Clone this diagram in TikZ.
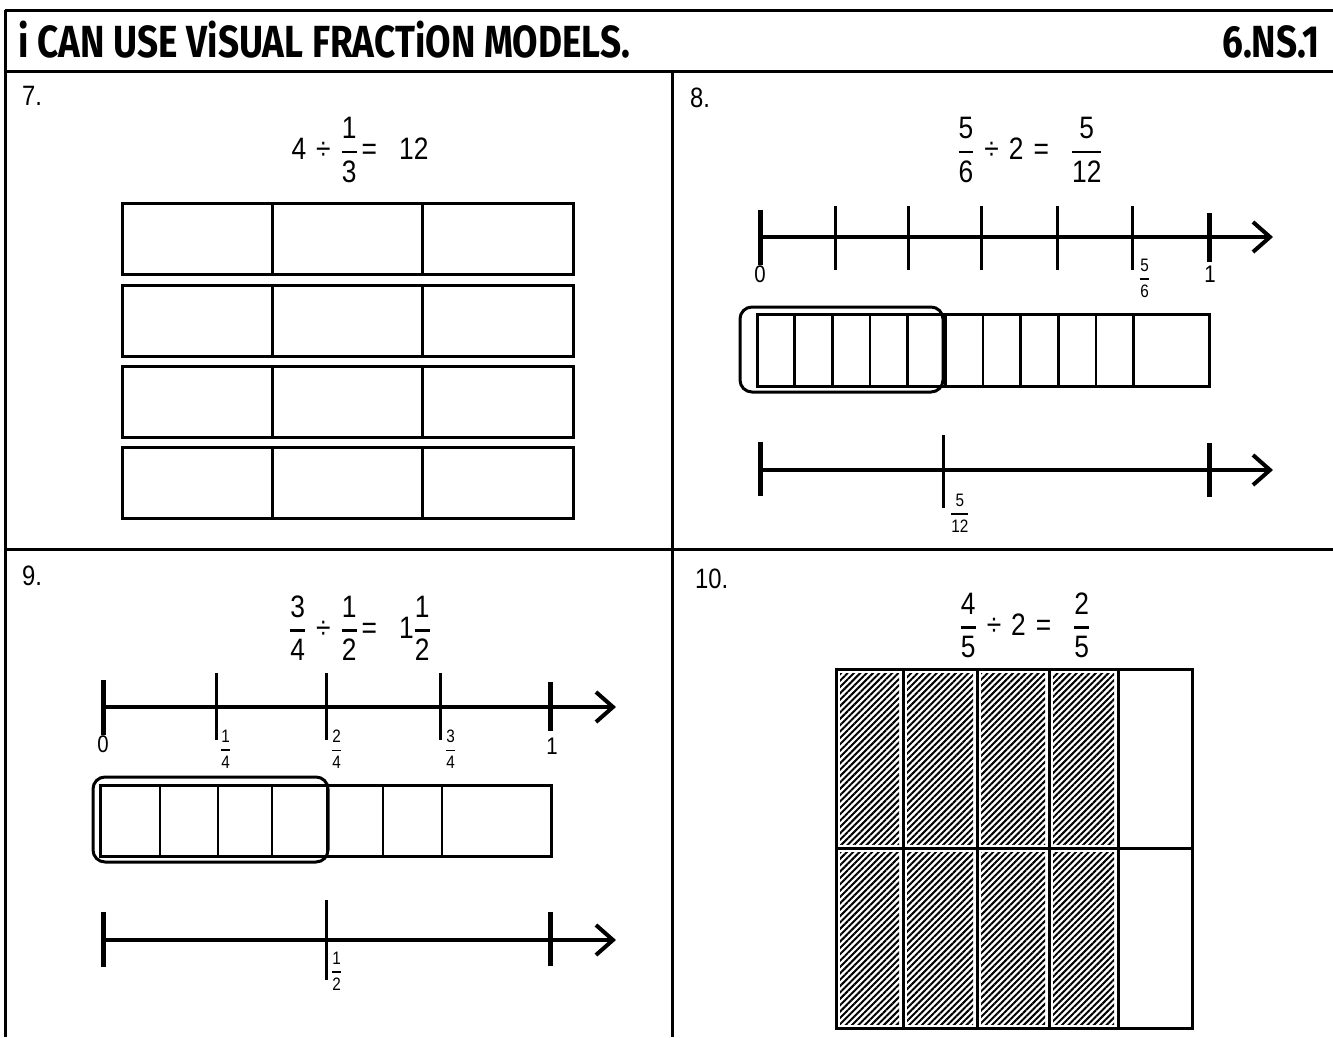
\RequirePackage{fix-cm}
\documentclass[tikz,border=0pt]{standalone}
\usepackage{amsmath}
\usepackage{fontspec}
\setmainfont{Liberation Sans}[FakeStretch=0.85]
\newfontfamily\titlefont{Fira Sans}[FakeStretch=0.82]
\usetikzlibrary{arrows.meta,patterns.meta}

\tikzset{
  frameline/.style={line width=3pt},
  barline/.style={line width=3pt},
  cellline/.style={line width=2.5pt},
  axisline/.style={line width=4pt,-{Straight Barb[length=17pt,width=30pt]}},
  endtick/.style={line width=5pt},
  midtick/.style={line width=3pt},
  probnum/.style={font=\fontsize{28}{32}\selectfont,inner sep=0pt},
  eqtext/.style={font=\fontsize{31}{36}\selectfont,inner sep=0pt},
  ticknum/.style={font=\fontsize{24}{26}\selectfont,inner sep=0pt},
  tickfrac/.style={font=\fontsize{18}{20}\selectfont,inner sep=0pt},
  groupbox/.style={line width=3pt,rounded corners=12pt},
}
\newcommand{\frc}[2]{$\genfrac{}{}{2.4pt}{0}{\text{#1}}{\text{#2}}$}
\newcommand{\smallfrc}[2]{$\genfrac{}{}{1.6pt}{0}{\text{#1}}{\text{#2}}$}
\newcommand{\gap}{\hspace{10pt}}
\newcommand{\biggap}{\hspace{22pt}}

\begin{document}
\begin{tikzpicture}[x=1pt,y=-1pt]
  \useasboundingbox (0,0) rectangle (1333,1037);

  % frame
  \draw[frameline] (5,10) -- (1333,10);
  \draw[frameline] (5,71) -- (1333,71);
  \draw[frameline] (5,549) -- (1333,549);
  \draw[frameline] (5,10) -- (5,1037);
  \draw[frameline] (672,71) -- (672,1037);

  % title
  \node[anchor=base west,inner sep=0pt,font=\titlefont\bfseries\fontsize{45}{48}\selectfont]
    (title) at (18,57) {i CAN USE ViSUAL FRACTiON MODELS.};
  \node[anchor=base east,inner sep=0pt,font=\titlefont\bfseries\fontsize{45}{48}\selectfont]
    (std) at (1320,57) {6.NS.1};

  % problem 7
  \node[probnum,anchor=base west] (p7) at (22,105) {7.};
  \node[eqtext] (eq7) at (360,150) {4\gap÷\gap\frc{1}{3}\hspace{4pt}=\biggap12};
  \foreach \y in {203,285,366,447}{
    \draw[barline] (122,\y) rectangle (573,\y+71);
    \foreach \x in {272,422}
      \draw[barline] (\x,\y) -- (\x,\y+71);
  }

  % problem 8
  \node[probnum,anchor=base west] (p8) at (690,107) {8.};
  \node[eqtext] (eq8) at (1030,150) {\frc{5}{6}\gap÷\gap2\gap=\biggap\frc{5}{12}};
  \coordinate (a8s) at (760,237);
  \coordinate (a8e) at (1273,237);
  \draw[axisline] (a8s) -- (a8e);
  \draw[endtick] (760,210) -- (760,265);
  \draw[endtick] (1209,213) -- (1209,262);
  \foreach \x in {835,908,981,1057,1132}
    \draw[midtick] (\x,206) -- (\x,270);
  \node[ticknum,anchor=north] (z8) at (760,266) {0};
  \node[tickfrac,anchor=north west] (f8) at (1139,259) {\smallfrc{5}{6}};
  \node[ticknum,anchor=north] (o8) at (1210,266) {1};
  \draw[barline] (757,314) rectangle (1209,386);
  \foreach \k in {1,...,10}
    \draw[cellline] (757+37.67*\k,314) -- (757+37.67*\k,386);
  \draw[groupbox] (740,307) rectangle (943,392);
  \coordinate (b8s) at (760,470);
  \coordinate (b8e) at (1273,470);
  \draw[axisline] (b8s) -- (b8e);
  \draw[endtick] (760,442) -- (760,496);
  \draw[endtick] (1209,443) -- (1209,497);
  \draw[midtick] (943,435) -- (943,508);
  \node[tickfrac,anchor=north west] (h8) at (950,494) {\smallfrc{5}{12}};

  % problem 9
  \node[probnum,anchor=base west] (p9) at (22,585) {9.};
  \node[eqtext] (eq9) at (360,628) {\frc{3}{4}\gap÷\gap\frc{1}{2}\hspace{4pt}=\biggap1\frc{1}{2}};
  \coordinate (a9s) at (103,707);
  \coordinate (a9e) at (616,707);
  \draw[axisline] (a9s) -- (a9e);
  \draw[endtick] (103,680) -- (103,735);
  \draw[endtick] (550,682) -- (550,731);
  \foreach \x in {216,326,440}
    \draw[midtick] (\x,673) -- (\x,740);
  \node[ticknum,anchor=north] (z9) at (103,736) {0};
  \node[tickfrac,anchor=north west] (q1) at (220,730) {\smallfrc{1}{4}};
  \node[tickfrac,anchor=north west] (q2) at (331,730) {\smallfrc{2}{4}};
  \node[tickfrac,anchor=north west] (q3) at (445,730) {\smallfrc{3}{4}};
  \node[ticknum,anchor=north] (o9) at (552,738) {1};
  \draw[barline] (100,785) rectangle (551,856);
  \foreach \x in {160,218,272,327,383,442}
    \draw[cellline] (\x,785) -- (\x,856);
  \draw[groupbox] (93,777) rectangle (328,862);
  \coordinate (b9s) at (103,940);
  \coordinate (b9e) at (616,940);
  \draw[axisline] (b9s) -- (b9e);
  \draw[endtick] (103,912) -- (103,967);
  \draw[endtick] (550,912) -- (550,966);
  \draw[midtick] (326,900) -- (326,980);
  \node[tickfrac,anchor=north west] (h9) at (331,952) {\smallfrc{1}{2}};

  % problem 10
  \node[probnum,anchor=base west] (p10) at (695,588) {10.};
  \node[eqtext] (eq10) at (1025,625) {\frc{4}{5}\gap÷\gap2\gap=\biggap\frc{2}{5}};
  \foreach \xa/\xb in {836/903,903/977,977/1049,1049/1118}
    \foreach \ya/\yb in {669/848,848/1028}
      \path[pattern={Lines[angle=45,distance=4.5pt,line width=2pt]}]
        (\xa+4,\ya+4) rectangle (\xb-4,\yb-4);
  \draw[barline] (836,669) rectangle (1192,1028);
  \draw[barline] (836,848) -- (1192,848);
  \foreach \x in {903,977,1049,1118}
    \draw[barline] (\x,669) -- (\x,1028);
\end{tikzpicture}
\end{document}
